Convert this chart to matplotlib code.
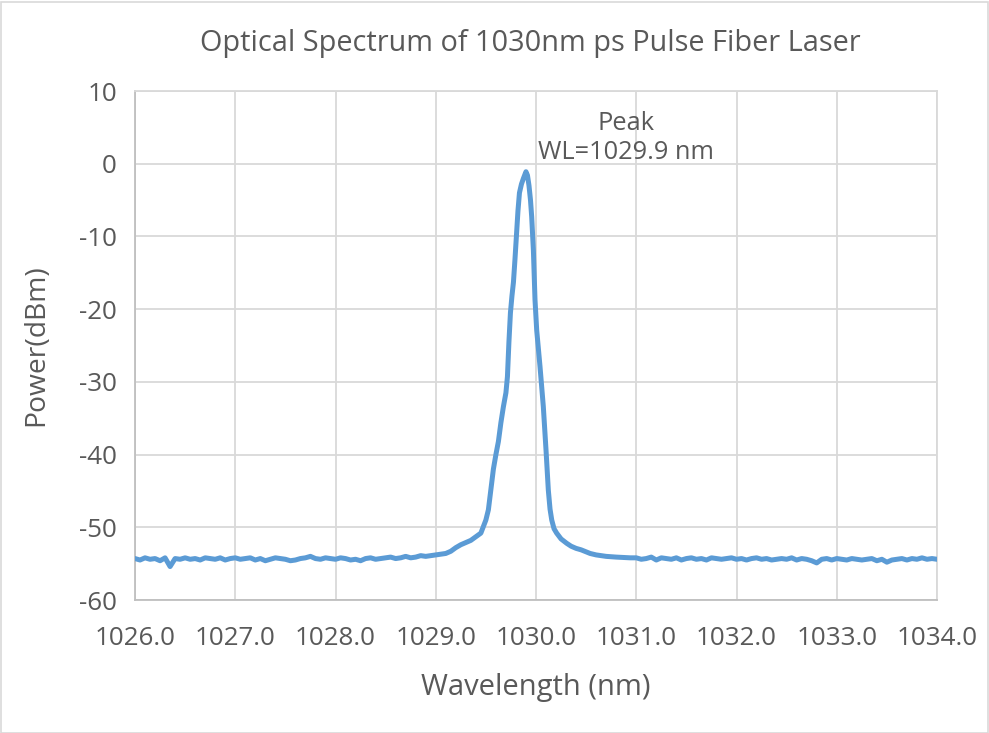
import numpy as np
import matplotlib
matplotlib.use("Agg")
import matplotlib.pyplot as plt
from matplotlib.patches import Rectangle

# ---------------- data ----------------
left_base_start, left_base_stop = 1026.00, 1029.00
left_base_power = [
    -54.3, -54.5, -54.2, -54.4, -54.3, -54.6, -54.2, -55.4, -54.3, -54.4,
    -54.2, -54.4, -54.3, -54.5, -54.2, -54.3, -54.4, -54.2, -54.5, -54.3,
    -54.2, -54.4, -54.3, -54.2, -54.5, -54.3, -54.6, -54.4, -54.2, -54.3,
    -54.4, -54.6, -54.5, -54.3, -54.2, -54.0, -54.3, -54.4, -54.2, -54.3,
    -54.4, -54.2, -54.3, -54.5, -54.4, -54.6, -54.3, -54.2, -54.4, -54.3,
    -54.2, -54.1, -54.3, -54.2, -54.0, -54.2, -54.1, -53.9, -54.0, -53.9,
    -53.8,
]

peak_wavelength = [
    1029.05, 1029.10, 1029.15, 1029.20, 1029.25, 1029.30, 1029.35, 1029.40,
    1029.45, 1029.475, 1029.50, 1029.525, 1029.55, 1029.575, 1029.60, 1029.625,
    1029.65, 1029.675, 1029.70, 1029.715, 1029.73, 1029.745, 1029.76, 1029.775,
    1029.79, 1029.805, 1029.82, 1029.835, 1029.855, 1029.875, 1029.90, 1029.915,
    1029.93, 1029.945, 1029.957, 1029.974, 1029.99, 1030.007, 1030.04, 1030.073,
    1030.10, 1030.123, 1030.14, 1030.157, 1030.18, 1030.206, 1030.25, 1030.306,
    1030.35, 1030.40, 1030.45, 1030.54, 1030.60, 1030.70, 1030.80, 1030.94,
]
peak_power = [
    -53.7, -53.6, -53.3, -52.8, -52.4, -52.1, -51.8, -51.3,
    -50.8, -49.9, -49.0, -47.6, -44.8, -42.0, -40.0, -38.2,
    -35.6, -33.4, -31.5, -29.3, -24.5, -20.5, -18.2, -16.3,
    -13.2, -9.8, -6.5, -4.0, -2.8, -2.0, -1.1, -1.6,
    -3.0, -5.0, -7.3, -11.9, -18.7, -22.9, -27.9, -33.4,
    -39.4, -44.9, -47.5, -49.0, -50.2, -50.8, -51.6, -52.2,
    -52.6, -52.9, -53.1, -53.6, -53.8, -54.0, -54.1, -54.2,
]

right_base_start, right_base_stop = 1031.00, 1034.00
right_base_power = [
    -54.2, -54.4, -54.3, -54.1, -54.5, -54.2, -54.3, -54.4, -54.2, -54.5,
    -54.3, -54.2, -54.4, -54.3, -54.5, -54.2, -54.3, -54.4, -54.3, -54.2,
    -54.4, -54.3, -54.5, -54.3, -54.2, -54.4, -54.3, -54.5, -54.4, -54.3,
    -54.4, -54.2, -54.5, -54.3, -54.4, -54.6, -54.9, -54.4, -54.3, -54.5,
    -54.3, -54.4, -54.5, -54.3, -54.4, -54.5, -54.4, -54.3, -54.6, -54.4,
    -54.8, -54.5, -54.4, -54.3, -54.5, -54.3, -54.4, -54.2, -54.4, -54.3,
    -54.4,
]

x_ticks = [1026.0, 1027.0, 1028.0, 1029.0, 1030.0, 1031.0, 1032.0, 1033.0, 1034.0]
y_ticks = [-60, -50, -40, -30, -20, -10, 0, 10]

title = "Optical Spectrum of 1030nm ps Pulse Fiber Laser"
x_label = "Wavelength (nm)"
y_label = "Power(dBm)"
peak_label = "Peak\nWL=1029.9 nm"

# ---------------- assemble series ----------------
left_wl = np.linspace(left_base_start, left_base_stop, len(left_base_power))
right_wl = np.linspace(right_base_start, right_base_stop, len(right_base_power))
wavelength = np.concatenate([left_wl, peak_wavelength, right_wl])
power = np.concatenate([left_base_power, peak_power, right_base_power])

# ---------------- style ----------------
plt.rcParams['font.family'] = ['Open Sans', 'DejaVu Sans']
TEXT = '#595959'
GRID = '#d9d9d9'
AXIS = '#bfbfbf'
LINE = '#5b9bd5'

W, H = 989, 733
fig = plt.figure(figsize=(W / 100, H / 100), dpi=100)
ax = fig.add_axes([135 / W, 1 - 600 / H, (937 - 135) / W, (600 - 91) / H])

ax.plot(wavelength, power, color=LINE, lw=3.6, solid_joinstyle='round',
        solid_capstyle='round', zorder=3)

ax.set_xlim(1026, 1034)
ax.set_ylim(-60, 10)
ax.set_xticks(x_ticks)
ax.set_xticklabels([f"{v:.1f}" for v in x_ticks])
ax.set_yticks(y_ticks)
ax.set_yticklabels([str(v) for v in y_ticks])

ax.grid(True, color=GRID, lw=1.3, zorder=0)
ax.set_axisbelow(True)
for side in ['top', 'right']:
    ax.spines[side].set_color(GRID)
    ax.spines[side].set_linewidth(1.3)
for side in ['left', 'bottom']:
    ax.spines[side].set_color(AXIS)
    ax.spines[side].set_linewidth(1.3)
ax.tick_params(length=0, colors=TEXT, labelsize=18.7)
ax.tick_params(axis='x', pad=18.5)
ax.tick_params(axis='y', pad=13)

fig.text(530 / W, 1 - 43 / H, title, ha='center', va='center', fontsize=20.8, color=TEXT)
fig.text(536 / W, 1 - 687 / H, x_label, ha='center', va='center', fontsize=21, color=TEXT)
fig.text(36 / W, 1 - 345 / H, y_label, ha='center', va='center', rotation=90, fontsize=20.3, color=TEXT)
fig.text(626 / W, 1 - 138 / H, peak_label, ha='center', va='center', fontsize=18.3,
         color=TEXT, linespacing=1.25)

fig.patches.append(Rectangle((0.5 / W, 0.5 / H), 1 - 2 / W, 1 - 2 / H, transform=fig.transFigure,
                             fill=False, edgecolor=GRID, lw=1.2))

fig.savefig("out.png", dpi=100)
